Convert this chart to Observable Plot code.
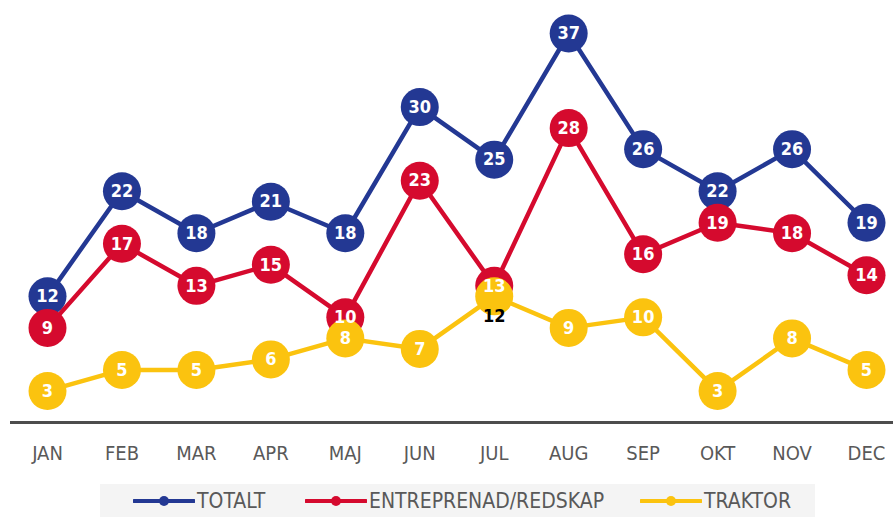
<!DOCTYPE html>
<html>
<head>
<meta charset="utf-8">
<script src="https://cdn.jsdelivr.net/npm/d3@7"></script>
<script src="https://cdn.jsdelivr.net/npm/@observablehq/plot@0.6"></script>
<style>
  html, body { margin: 0; padding: 0; background: #fff; }
  #wrap { position: relative; width: 893px; height: 517px; overflow: hidden; }
  #legend { position: absolute; left: 100px; top: 484px; width: 715px; height: 33px; background: #f4f4f4;
    font-family: "Liberation Sans Narrow", "DejaVu Sans Condensed", "Roboto", sans-serif; font-size: 21px; color: #595959; }
  .item { position: absolute; top: 0; height: 33px; display: flex; align-items: center; }
  .item svg { margin-right: 2px; }
</style>
</head>
<body>
<div id="wrap"><div id="chart"></div><div id="legend"></div></div>
<script>
const months = ["JAN","FEB","MAR","APR","MAJ","JUN","JUL","AUG","SEP","OKT","NOV","DEC"];
const seriesNames = ["TOTALT","ENTREPRENAD/REDSKAP","TRAKTOR"];
const totalt = [12,22,18,21,18,30,25,37,26,22,26,19];
const entreprenad = [9,17,13,15,10,23,13,28,16,19,18,14];
const traktor = [3,5,5,6,8,7,12,9,10,3,8,5];
const colors = ["#233893","#d50a2e","#fbc30f"];

const seriesValues = [totalt, entreprenad, traktor];
const data = seriesValues.flatMap((vals, si) => vals.map((v, i) => ({series: seriesNames[si], month: months[i], value: v})));
const font = '"Liberation Sans Narrow", "DejaVu Sans Condensed", "Roboto", sans-serif';

const isShifted = d => d.series === "TRAKTOR" && d.month === "JUL";

const marks = [
  Plot.ruleY([0], {stroke: "#4d4d4d", strokeWidth: 3, insetLeft: -37, insetRight: -27}),
  Plot.axisX({tickSize: 0, tickPadding: 23, fontSize: 20, fill: "#595959", fontFamily: font, label: null})
];
seriesNames.forEach((name, si) => {
  const sub = data.filter(d => d.series === name);
  marks.push(Plot.line(sub, {x: "month", y: "value", stroke: colors[si], strokeWidth: 4.5}));
  marks.push(Plot.dot(sub, {x: "month", y: "value", r: 19, fill: colors[si], stroke: "none"}));
});
marks.push(Plot.text(data.filter(d => !isShifted(d)), {x: "month", y: "value", text: "value", fill: "white",
  fontSize: 18, fontWeight: "bold", fontFamily: font}));
marks.push(Plot.text(data.filter(isShifted), {x: "month", y: "value", text: "value", fill: "black", dy: 20,
  fontSize: 18, fontWeight: "bold", fontFamily: font}));

const chart = Plot.plot({
  width: 893, height: 480,
  marginLeft: 47, marginRight: 27, marginTop: 33, marginBottom: 58,
  style: {background: "white", fontFamily: font, overflow: "visible"},
  x: {type: "point", domain: months, padding: 0, round: false},
  y: {domain: [0, 37], axis: null},
  marks
});
document.getElementById("chart").appendChild(chart);

const legend = document.getElementById("legend");
const lefts = [33, 205, 540];
seriesNames.forEach((name, si) => {
  const item = document.createElement("div");
  item.className = "item";
  item.style.left = lefts[si] + "px";
  item.innerHTML = `<svg width="62" height="12"><line x1="1" x2="61" y1="6" y2="6" stroke="${colors[si]}" stroke-width="4" stroke-linecap="round"/><circle cx="31" cy="6" r="5" fill="${colors[si]}"/></svg><span>${name}</span>`;
  legend.appendChild(item);
});
</script>
</body>
</html>
